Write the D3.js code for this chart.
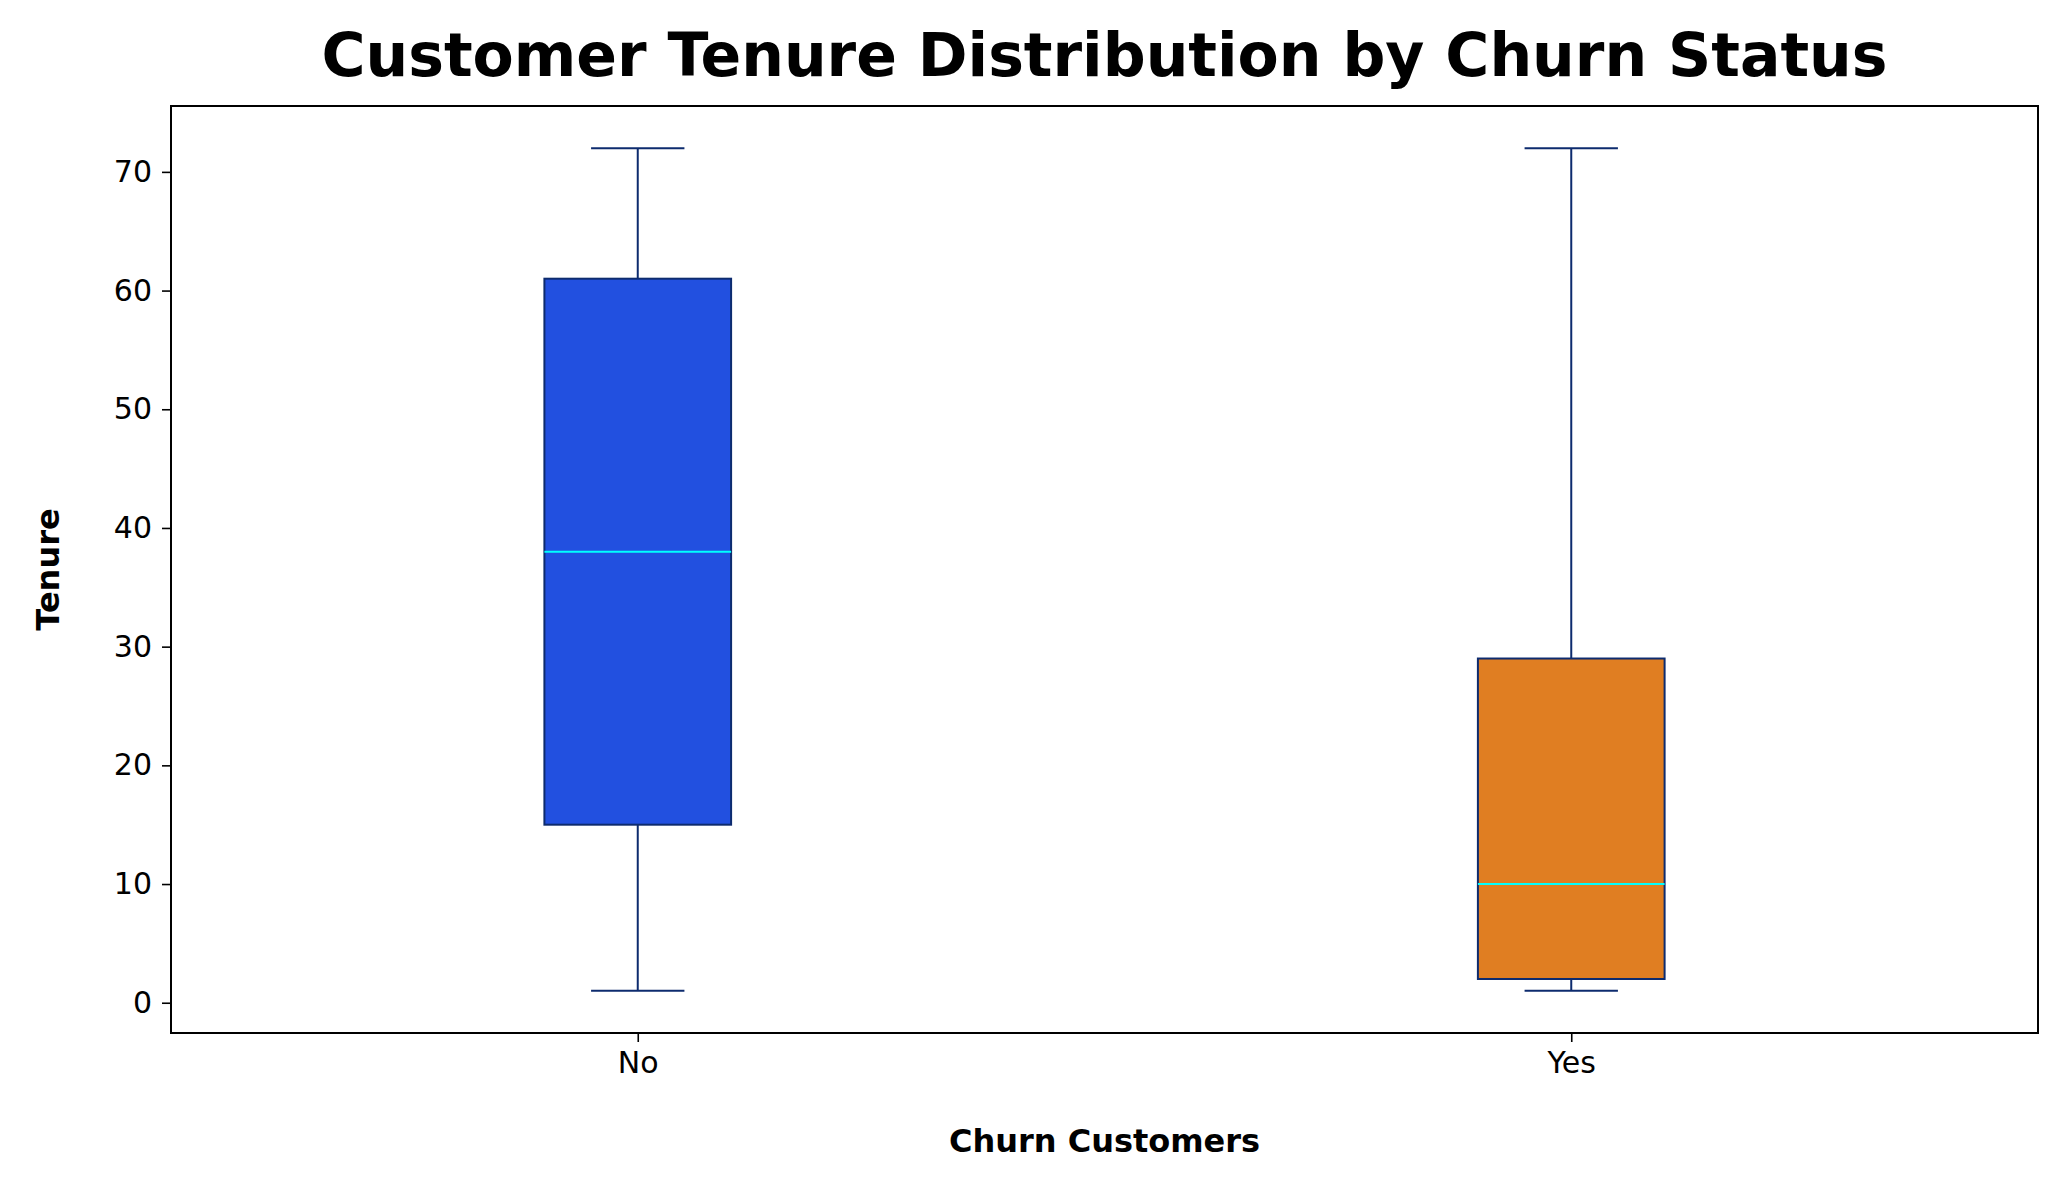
<!DOCTYPE html>
<html>
<head>
<meta charset="utf-8">
<style>
  body { margin: 0; background: #fff; font-family: "DejaVu Sans", sans-serif; }
</style>
<script src="https://cdn.jsdelivr.net/npm/d3@7"></script>
</head>
<body>
<svg width="2058" height="1184"></svg>
<script>
var categories = ["No", "Yes"];
var mins = [1, 1];
var q1s = [15, 2];
var medians = [38, 10];
var q3s = [61, 29];
var maxs = [72, 72];
var fills = ["#2250e0", "#e07e22"];
var yTicks = [0, 10, 20, 30, 40, 50, 60, 70];

var svg = d3.select("svg"),
    margin = {top: 106, right: 20, bottom: 151, left: 171},
    width = 2058 - margin.left - margin.right,
    height = 1184 - margin.top - margin.bottom,
    g = svg.append("g").attr("transform", "translate(" + margin.left + "," + margin.top + ")");

var x = d3.scaleLinear().domain([0.5, 2.5]).range([0, width]);
var y = d3.scaleLinear().domain([-2.55, 75.55]).range([height, 0]);
var stroke = "#0d2b6e";

var data = categories.map(function(c, i) {
  return {cat: c, pos: i + 1, min: mins[i], q1: q1s[i], med: medians[i], q3: q3s[i], max: maxs[i], fill: fills[i]};
});

var box = g.selectAll(".box").data(data).enter().append("g");
var bw = x(1.1) - x(1), cw = x(1.05) - x(1);

box.append("line").attr("x1", function(d) { return x(d.pos); }).attr("x2", function(d) { return x(d.pos); })
  .attr("y1", function(d) { return y(d.min); }).attr("y2", function(d) { return y(d.q1); })
  .attr("stroke", stroke).attr("stroke-width", 2);
box.append("line").attr("x1", function(d) { return x(d.pos); }).attr("x2", function(d) { return x(d.pos); })
  .attr("y1", function(d) { return y(d.q3); }).attr("y2", function(d) { return y(d.max); })
  .attr("stroke", stroke).attr("stroke-width", 2);
["min", "max"].forEach(function(k) {
  box.append("line").attr("x1", function(d) { return x(d.pos) - cw; }).attr("x2", function(d) { return x(d.pos) + cw; })
    .attr("y1", function(d) { return y(d[k]); }).attr("y2", function(d) { return y(d[k]); })
    .attr("stroke", stroke).attr("stroke-width", 2);
});
box.append("rect").attr("x", function(d) { return x(d.pos) - bw; }).attr("width", 2 * bw)
  .attr("y", function(d) { return y(d.q3); }).attr("height", function(d) { return y(d.q1) - y(d.q3); })
  .attr("fill", function(d) { return d.fill; }).attr("stroke", stroke).attr("stroke-width", 2);
box.append("line").attr("x1", function(d) { return x(d.pos) - bw; }).attr("x2", function(d) { return x(d.pos) + bw; })
  .attr("y1", function(d) { return y(d.med); }).attr("y2", function(d) { return y(d.med); })
  .attr("stroke", "#00ffff").attr("stroke-width", 2);

var xAxis = g.append("g").attr("transform", "translate(0," + height + ")")
  .call(d3.axisBottom(x).tickValues([1, 2]).tickFormat(function(d) { return categories[d - 1]; }).tickSize(9).tickPadding(10));
var yAxis = g.append("g").call(d3.axisLeft(y).tickValues(yTicks).tickSize(9).tickPadding(10));
[xAxis, yAxis].forEach(function(a) {
  a.select(".domain").remove();
  a.selectAll("line").attr("stroke-width", 1.6);
  a.selectAll("text").attr("font-size", 30).attr("font-family", "DejaVu Sans").attr("fill", "#000");
});

g.append("rect").attr("width", width).attr("height", height).attr("fill", "none").attr("stroke", "#000").attr("stroke-width", 2);

svg.append("text").attr("x", margin.left + width / 2).attr("y", 76).attr("text-anchor", "middle")
  .attr("font-size", 60).attr("font-weight", "bold").text("Customer Tenure Distribution by Churn Status");
svg.append("text").attr("x", margin.left + width / 2).attr("y", 1152).attr("text-anchor", "middle")
  .attr("font-size", 32).attr("font-weight", "bold").text("Churn Customers");
svg.append("text").attr("transform", "translate(59," + (margin.top + height / 2) + ") rotate(-90)").attr("text-anchor", "middle")
  .attr("font-size", 32).attr("font-weight", "bold").text("Tenure");
</script>
</body>
</html>
